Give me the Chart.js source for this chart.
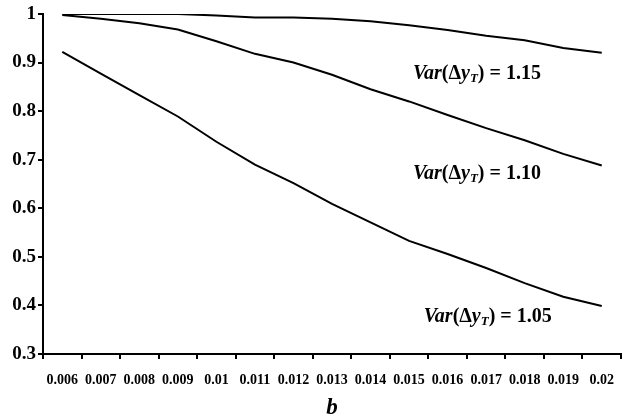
<!DOCTYPE html>
<html><head><meta charset="utf-8">
<script src="https://cdn.jsdelivr.net/npm/chart.js@4/dist/chart.umd.min.js"></script>
<style>html,body{margin:0;padding:0;background:#fff}#wrap{width:627px;height:418px}</style>
</head><body><div id="wrap"><canvas id="c" width="627" height="418"></canvas></div>
<script>
const categories = ["0.006","0.007","0.008","0.009","0.01","0.011","0.012","0.013","0.014","0.015","0.016","0.017","0.018","0.019","0.02"];
const var115 = [1.0,1.0,1.0,1.0,0.997,0.993,0.993,0.99,0.985,0.977,0.967,0.955,0.946,0.93,0.92];
const var110 = [0.998,0.99,0.981,0.968,0.944,0.918,0.9,0.875,0.845,0.82,0.792,0.765,0.74,0.712,0.688];
const var105 = [0.922,0.877,0.833,0.789,0.737,0.69,0.652,0.609,0.571,0.533,0.506,0.477,0.446,0.418,0.399];
const seriesLabels = ["1.15","1.10","1.05"];
// annotation anchors: [category position, y value]
const labelAnchors = [[9.1,0.877],[9.1,0.671],[9.38,0.376]];

const serif = "'Liberation Serif','Times New Roman',serif";

const labelPlugin = {
  id:'varLabels',
  afterDatasetsDraw(chart){
    const ctx = chart.ctx, xs = chart.scales.x, ys = chart.scales.y;
    const step = xs.getPixelForValue(1)-xs.getPixelForValue(0);
    ctx.save();
    ctx.fillStyle = '#000';
    ctx.textBaseline = 'middle';
    seriesLabels.forEach((v,i)=>{
      const a = labelAnchors[i];
      const base = Math.floor(a[0]);
      const x = xs.getPixelForValue(base) + (a[0]-base)*step;
      const y = ys.getPixelForValue(a[1]);
      const parts = [
        ['italic bold 20px '+serif,'Var',0],
        ['bold 20px '+serif,'(\u0394',0],
        ['italic bold 20px '+serif,'y',0],
        ['italic bold 13px '+serif,'T',5],
        ['bold 20px '+serif,') = '+v,0]
      ];
      let cx = x;
      parts.forEach(p=>{
        ctx.font = p[0];
        ctx.fillText(p[1], cx, y + p[2]);
        cx += ctx.measureText(p[1]).width;
      });
    });
    ctx.restore();
  }
};

new Chart(document.getElementById('c'),{
  type:'line',
  data:{
    labels:categories,
    datasets:[
      {data:var115,borderColor:'#000',borderWidth:2,pointRadius:0,tension:0,fill:false},
      {data:var110,borderColor:'#000',borderWidth:2,pointRadius:0,tension:0,fill:false},
      {data:var105,borderColor:'#000',borderWidth:2,pointRadius:0,tension:0,fill:false}
    ]
  },
  options:{
    responsive:false,
    animation:false,
    devicePixelRatio:1,
    layout:{padding:{top:14,right:0,left:0,bottom:0}},
    plugins:{legend:{display:false},tooltip:{enabled:false}},
    scales:{
      x:{
        type:'category',
        offset:true,
        grid:{offset:true,drawOnChartArea:false,drawTicks:true,tickLength:5,color:'#000',lineWidth:2},
        border:{display:true,color:'#000',width:2},
        ticks:{color:'#000',font:{family:serif,size:14,weight:'bold'},padding:13,maxRotation:0,autoSkip:false},
        title:{display:true,text:'b',color:'#000',font:{family:serif,size:23,weight:'bold',style:'italic'},padding:{top:0,bottom:-4}},
        afterFit(s){s.height=64;}
      },
      y:{
        min:0.3,max:1,
        grid:{drawOnChartArea:false,drawTicks:true,tickLength:5,color:'#000',lineWidth:2},
        border:{display:true,color:'#000',width:2},
        ticks:{stepSize:0.1,color:'#000',font:{family:serif,size:19,weight:'bold'},padding:2,
          callback:v=>String(Number(v.toFixed(1)))},
        afterFit(s){s.width=43;}
      }
    }
  },
  plugins:[labelPlugin]
});
</script></body></html>
